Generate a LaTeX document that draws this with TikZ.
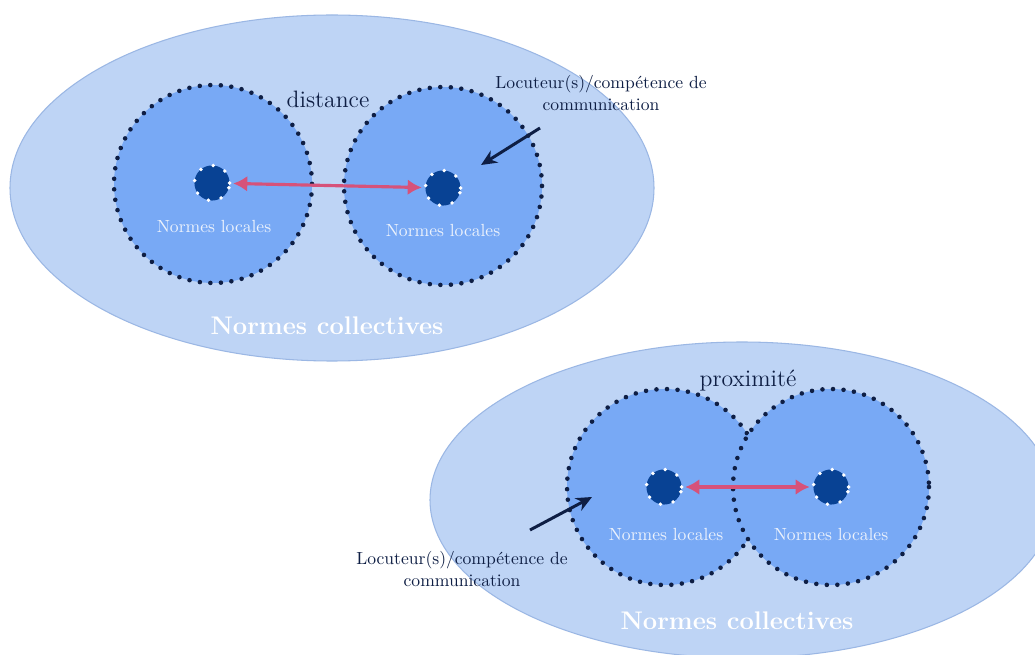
\documentclass[tikz,border=0pt]{standalone}
\usepackage{tikz}
\usetikzlibrary{arrows.meta}
\definecolor{paleblue}{RGB}{190,212,245}
\definecolor{rimblue}{RGB}{155,183,228}
\definecolor{midblue}{RGB}{120,169,245}
\definecolor{deepblue}{RGB}{8,66,148}
\definecolor{navy}{RGB}{14,30,68}
\definecolor{rose}{RGB}{214,82,122}
\definecolor{labelwhite}{RGB}{236,242,252}

\tikzset{
  field/.style={fill=paleblue,draw=rimblue,line width=0.6pt},
  zone/.style={fill=midblue,draw=navy,line width=2.6pt,line cap=round,dash pattern=on 0pt off 6pt},
  hub/.style={circle,fill=deepblue,draw=white,line width=2.2pt,line cap=round,dash pattern=on 0pt off 7.5pt,minimum size=20pt,inner sep=0pt},
  link/.style={rose,line width=1.8pt,{Latex[length=8pt,width=9pt]}-{Latex[length=8pt,width=9pt]},shorten <=1pt,shorten >=1pt},
  pointer/.style={navy,line width=1.7pt,-{Stealth[length=9pt,width=8pt]}},
  local/.style={text=labelwhite,font=\fontsize{10}{12}\selectfont},
  collective/.style={text=white,font=\fontsize{14.5}{17}\selectfont\bfseries},
  gap/.style={text=navy,font=\fontsize{13.5}{16}\selectfont},
  speaker/.style={text=navy,font=\fontsize{10}{12.5}\selectfont,align=center}
}

\begin{document}
\begin{tikzpicture}[x=0.02cm,y=-0.02cm]
    \clip (0,0) rectangle (1035,655);
    \fill[white] (0,0) rectangle (1035,655);

    \draw[field] (332,188) ellipse (322 and 173);
    \draw[zone] (213,184) circle (99);
    \draw[zone] (443,186) circle (99);
    \node[hub] (topleft) at (212,183) {};
    \node[hub] (topright) at (443,188) {};
    \draw[link] (topleft) -- (topright);
    \node[local] (toplocalA) at (214,227) {Normes locales};
    \node[local] (toplocalB) at (443,231) {Normes locales};
    \node[gap] (distance) at (328,99) {distance};
    \node[collective] (topcollective) at (327,326) {Normes collectives};
    \node[speaker] (topspeaker) at (601,93) {Locuteur(s)/compétence de\\communication};
    \coordinate (toptail) at (540,128);
    \coordinate (tophead) at (481,165);
    \draw[pointer] (toptail) -- (tophead);

    \draw[field] (742,500) ellipse (312 and 158);
    \draw[zone] (665,487) circle (98);
    \draw[zone] (831,487) circle (98);
    \node[hub] (lowleft) at (664,487) {};
    \node[hub] (lowright) at (831,487) {};
    \draw[link] (lowleft) -- (lowright);
    \node[local] (lowlocalA) at (666,534) {Normes locales};
    \node[local] (lowlocalB) at (831,534) {Normes locales};
    \node[gap] (proximite) at (748,381) {proximité};
    \node[collective] (lowcollective) at (737,621) {Normes collectives};
    \node[speaker] (lowspeaker) at (462,569) {Locuteur(s)/compétence de\\communication};
    \coordinate (lowtail) at (530,530);
    \coordinate (lowhead) at (592,497);
    \draw[pointer] (lowtail) -- (lowhead);
\end{tikzpicture}
\end{document}
